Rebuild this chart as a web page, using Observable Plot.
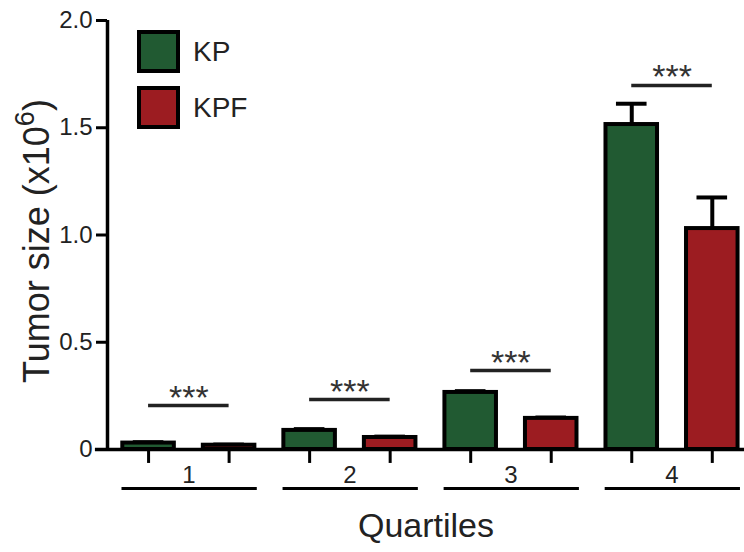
<!DOCTYPE html>
<html>
<head>
<meta charset="utf-8">
<script src="https://cdn.jsdelivr.net/npm/d3@7"></script>
<script src="https://cdn.jsdelivr.net/npm/@observablehq/plot@0.6"></script>
<style>
  html, body { margin: 0; padding: 0; background: #fff; }
  #wrap { position: relative; width: 744px; height: 552px; font-family: "Liberation Sans", Arial, sans-serif; color: #222; }
  #wrap svg { position: absolute; left: 0; top: 0; }
  .legend-item { position: absolute; left: 137px; display: flex; align-items: center; height: 43px; }
  .swatch { width: 43px; height: 43px; box-sizing: border-box; border: 4px solid #000; }
  .legend-label { margin-left: 13px; font-size: 28px; }
  #ytitle { position: absolute; left: 37px; top: 241px; transform: translate(-50%, -50%) rotate(-90deg); white-space: nowrap; font-size: 36px; }
  #ytitle sup { font-size: 75%; vertical-align: 0.55em; line-height: 0; }
</style>
</head>
<body>
<div id="wrap"></div>
<script>
// ---- data ----
const quartiles = ["1", "2", "3", "4"];
const series = ["KP", "KPF"];
const kpValues = [0.03, 0.089, 0.266, 1.515];
const kpfValues = [0.02, 0.056, 0.145, 1.03];
const kpErrors = [0.004, 0.006, 0.006, 0.097];
const kpfErrors = [0.003, 0.004, 0.004, 0.145];
const sigLabels = ["***", "***", "***", "***"];
const sigHeights = [0.205, 0.233, 0.368, 1.697];
const yTicks = [0, 0.5, 1.0, 1.5, 2.0];
const colors = {KP: "#215a32", KPF: "#9c1c21"};

// ---- table built from arrays ----
const bars = [];
quartiles.forEach((q, i) => {
  bars.push({quartile: q, series: "KP", pos: 2 * i + 1, value: kpValues[i], err: kpErrors[i]});
  bars.push({quartile: q, series: "KPF", pos: 2 * i + 2, value: kpfValues[i], err: kpfErrors[i]});
});
const groups = quartiles.map((q, i) => ({quartile: q, left: 2 * i + 1, right: 2 * i + 2, center: 2 * i + 1.5, sig: sigLabels[i], sigY: sigHeights[i]}));

const halfBar = 0.32;
const capHalf = 0.19;

const chart = Plot.plot({
  width: 744,
  height: 552,
  marginLeft: 107,
  marginRight: 0,
  marginTop: 20,
  marginBottom: 103,
  style: {fontFamily: '"Liberation Sans", Arial, sans-serif', fontSize: "24px", color: "#222", background: "transparent"},
  x: {domain: [0.49, 8.4], axis: null},
  y: {domain: [0, 2], axis: null},
  marks: [
    // error bars
    Plot.ruleX(bars, {x: "pos", y1: "value", y2: d => d.value + d.err, stroke: "#000", strokeWidth: 4}),
    Plot.ruleY(bars, {y: d => d.value + d.err, x1: d => d.pos - capHalf, x2: d => d.pos + capHalf, stroke: "#000", strokeWidth: 4}),
    // bars
    Plot.rectY(bars, {x1: d => d.pos - halfBar, x2: d => d.pos + halfBar, y1: 0, y2: "value", fill: d => colors[d.series], stroke: "#000", strokeWidth: 4}),
    // y axis
    Plot.ruleX([0.49], {y1: 0, y2: 2, stroke: "#000", strokeWidth: 3.5}),
    Plot.axisY({ticks: yTicks, tickSize: 11, tickPadding: 4, strokeWidth: 3, stroke: "#000", fill: "#222", label: null,
      tickFormat: d => d === 0 ? "0" : d3.format(".1f")(d)}),
    // baseline
    Plot.ruleY([0], {x1: 0.34, x2: 8.4, stroke: "#000", strokeWidth: 3.5}),
    // bar ticks below baseline
    Plot.ruleX(bars, {x: "pos", y1: 0, y2: -0.065, stroke: "#000", strokeWidth: 3}),
    // quartile labels
    Plot.text(groups, {x: "center", y: 0, dy: 25.5, text: "quartile", fontSize: 24, fill: "#222"}),
    // quartile underlines
    Plot.ruleY(groups, {y: 0, dy: 39, x1: d => d.left - 0.33, x2: d => d.right + 0.35, stroke: "#000", strokeWidth: 3}),
    // significance lines
    Plot.ruleY(groups, {y: "sigY", x1: "left", x2: "right", stroke: "#222", strokeWidth: 3.5}),
    Plot.text(groups, {x: "center", y: "sigY", dy: 3, lineAnchor: "bottom", text: "sig", fontSize: 34, fill: "#333"}),
    // x title
    Plot.text(["Quartiles"], {frameAnchor: "bottom", dy: 87, text: d => d, fontSize: 34, fill: "#222"})
  ]
});

const wrap = document.getElementById("wrap");
wrap.appendChild(chart);

// legend
series.forEach((s, i) => {
  const item = document.createElement("div");
  item.className = "legend-item";
  item.style.top = (30 + i * 56) + "px";
  const sw = document.createElement("div");
  sw.className = "swatch";
  sw.style.background = colors[s];
  const lab = document.createElement("span");
  lab.className = "legend-label";
  lab.textContent = s;
  item.appendChild(sw);
  item.appendChild(lab);
  wrap.appendChild(item);
});

// y title
const yt = document.createElement("div");
yt.id = "ytitle";
yt.innerHTML = "Tumor size (x10<sup>6</sup>)";
wrap.appendChild(yt);
</script>
</body>
</html>
